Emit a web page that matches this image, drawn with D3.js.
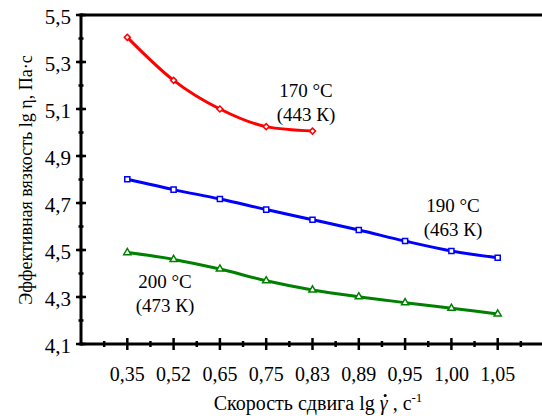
<!DOCTYPE html>
<html><head><meta charset="utf-8">
<script src="https://cdn.jsdelivr.net/npm/d3@7"></script>
<style>body{margin:0;background:#fff}svg{display:block}</style>
</head><body><svg id="c" width="542" height="416" font-family="'Liberation Serif', 'DejaVu Serif', serif"></svg>
<script>
const categories = ["0,35","0,52","0,65","0,75","0,83","0,89","0,95","1,00","1,05"];
const yTicks = [4.1,4.3,4.5,4.7,4.9,5.1,5.3,5.5];
const yTickLabels = ["4,1","4,3","4,5","4,7","4,9","5,1","5,3","5,5"];
const s170 = [5.405,5.222,5.100,5.025,5.006];
const s190 = [4.801,4.757,4.717,4.672,4.629,4.585,4.538,4.496,4.467];
const s200 = [4.489,4.460,4.419,4.369,4.330,4.301,4.276,4.252,4.228];

const svg = d3.select("#c");
const FF = "Liberation Serif";
const x = d3.scaleLinear().domain([-1, 9]).range([81, 544]);
const y = d3.scaleLinear().domain([4.1, 5.5]).range([344, 15]);

// top frame line
svg.append("line").attr("x1",x(-1)).attr("x2",542).attr("y1",y(5.5)).attr("y2",y(5.5)).attr("stroke","#000").attr("stroke-width",3);

// Y axis
const yMinor = d3.range(41,56).map(v=>v/10);
const gy = svg.append("g");
gy.selectAll("line.minor").data(yMinor).join("line")
  .attr("x1",x(-1)-2.5).attr("x2",x(-1)+2.5).attr("y1",d=>y(d)).attr("y2",d=>y(d)).attr("stroke","#000").attr("stroke-width",2.5);
gy.selectAll("line.major").data(yTicks).join("line")
  .attr("x1",x(-1)-5).attr("x2",x(-1)+5).attr("y1",d=>y(d)).attr("y2",d=>y(d)).attr("stroke","#000").attr("stroke-width",2.5);
gy.append("line").attr("x1",x(-1)).attr("x2",x(-1)).attr("y1",y(5.5)-1.5).attr("y2",y(4.1)+1.5).attr("stroke","#000").attr("stroke-width",3);
gy.selectAll("text").data(yTicks).join("text")
  .attr("x",71).attr("y",d=>y(d)+9).attr("text-anchor","end").attr("font-size",21).attr("font-family",FF)
  .text((d,i)=>yTickLabels[i]);

// X axis
const gx = svg.append("g");
gx.append("line").attr("x1",x(-1)).attr("x2",542).attr("y1",y(4.1)).attr("y2",y(4.1)).attr("stroke","#000").attr("stroke-width",3);
const xMinor = d3.range(-0.5, 9, 1);
gx.selectAll("line.minor").data(xMinor).join("line")
  .attr("x1",d=>x(d)).attr("x2",d=>x(d)).attr("y1",y(4.1)-3).attr("y2",y(4.1)+3).attr("stroke","#000").attr("stroke-width",2.5);
gx.selectAll("line.major").data(categories).join("line")
  .attr("x1",(d,i)=>x(i)).attr("x2",(d,i)=>x(i)).attr("y1",y(4.1)-6).attr("y2",y(4.1)+6).attr("stroke","#000").attr("stroke-width",2.5);
gx.selectAll("text").data(categories).join("text")
  .attr("x",(d,i)=>x(i)).attr("y",381).attr("text-anchor","middle").attr("font-size",20).attr("font-family",FF).text(d=>d);

// series
const line = d3.line().x((d,i)=>x(i)).y(d=>y(d)).curve(d3.curveMonotoneX);
function series(data,color,shape,size,rot){
  svg.append("path").datum(data).attr("d",line).attr("fill","none").attr("stroke",color).attr("stroke-width",3);
  svg.selectAll(null).data(data).join("path")
    .attr("transform",(d,i)=>`translate(${x(i)},${y(d)}) rotate(${rot})`)
    .attr("d",d3.symbol().type(shape).size(size))
    .attr("fill","#fff").attr("stroke",color).attr("stroke-width",1.5);
}
series(s170,"#ff0000",d3.symbolSquare,18,45);
series(s190,"#0000ff",d3.symbolSquare,26,0);
series(s200,"#008000",d3.symbolTriangle,22,0);

// annotations
const ann = [["170 °C","(443 К)",306,97],["190 °C","(463 К)",453,212],["200 °C","(473 К)",165,288]];
ann.forEach(a=>{
  svg.append("text").attr("x",a[2]).attr("y",a[3]).attr("text-anchor","middle").attr("font-size",19).attr("font-family",FF).text(a[0]);
  svg.append("text").attr("x",a[2]).attr("y",a[3]+24).attr("text-anchor","middle").attr("font-size",19).attr("font-family",FF).text(a[1]);
});

// axis titles
const xt = svg.append("text").attr("x",318).attr("y",410).attr("text-anchor","middle").attr("font-size",20).attr("font-family",FF);
xt.append("tspan").text("Скорость сдвига lg ");
xt.append("tspan").attr("font-style","italic").text("γ");
xt.append("tspan").text(" , с");
xt.append("tspan").attr("dy",-8).attr("font-size",13).text("-1");
// dot over gamma
const gnode = xt.selectAll("tspan").nodes()[1];
const ext = gnode.getExtentOfChar ? gnode.getExtentOfChar(0) : null;
if (ext) {
  svg.append("circle").attr("cx",ext.x+ext.width/2+1.5).attr("cy",ext.y+3.5).attr("r",1.5).attr("fill","#000");
}

svg.append("text").attr("transform","translate(32,180) rotate(-90)").attr("text-anchor","middle").attr("font-size",18).attr("font-family",FF)
  .text("Эффективная вязкость lg η, Па·с");
</script></body></html>
